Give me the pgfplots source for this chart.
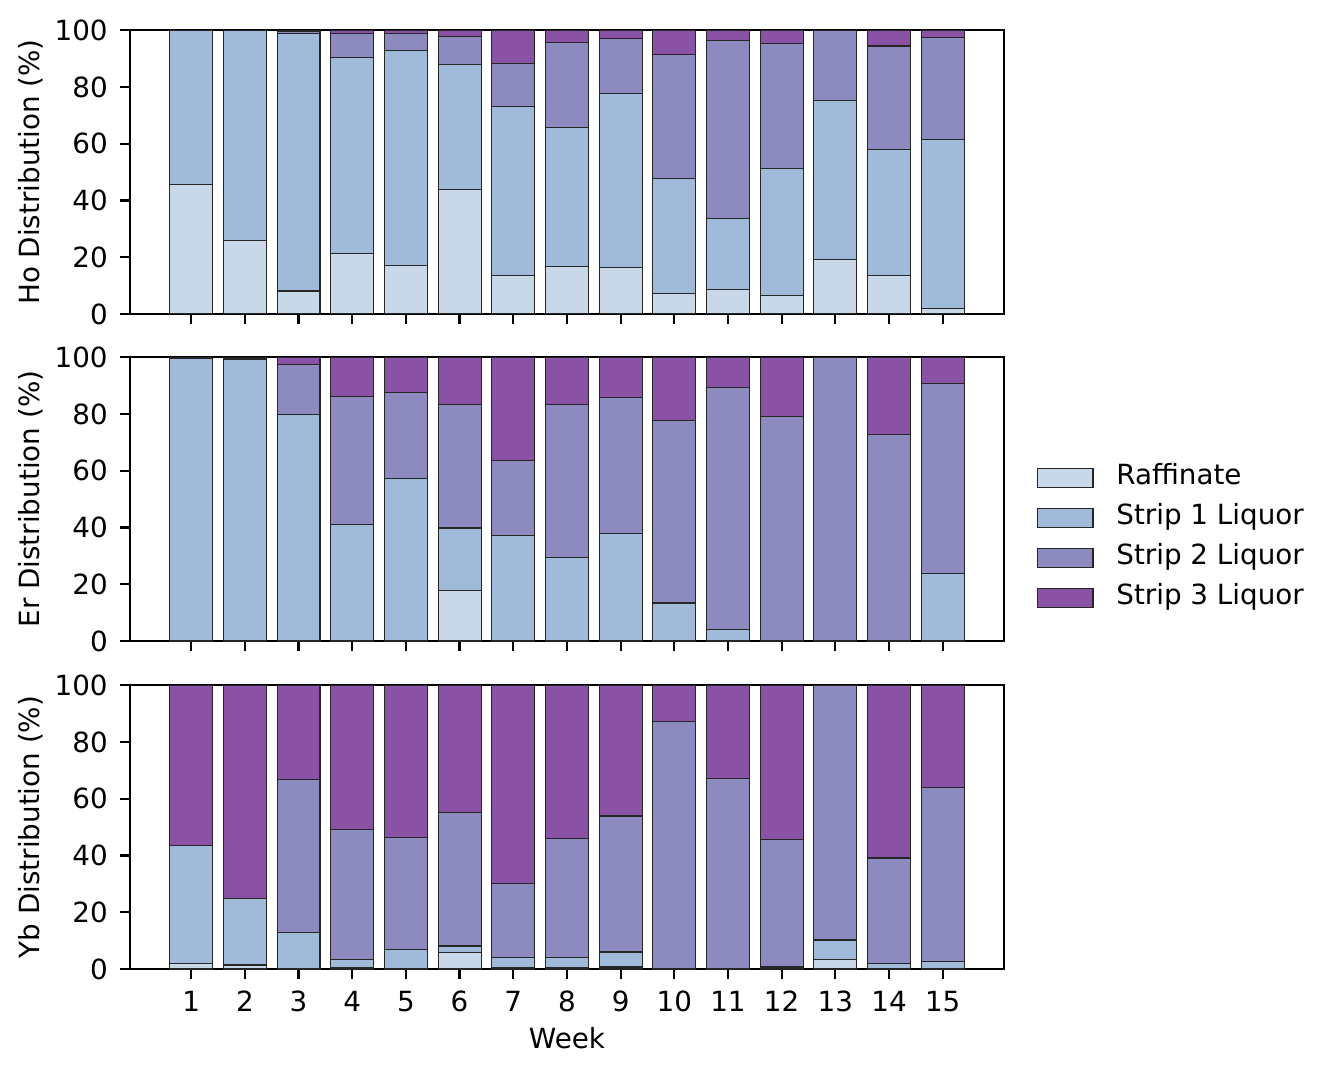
\documentclass[border=0pt]{standalone}
\usepackage{fontspec}
\setmainfont{DejaVu Sans}
\usepackage{pgfplots}
\usepackage{pgfplotstable}
\pgfplotsset{compat=1.18}
\definecolor{cR}{HTML}{C8D8E8}
\definecolor{cSa}{HTML}{9FBBD9}
\definecolor{cSb}{HTML}{8C8ABF}
\definecolor{cSc}{HTML}{8A52A4}

\pgfplotstableread{
week R S1 S2 S3
1 45.7 54.3 0 0
2 26.0 74.0 0 0
3 8.1 90.7 0.9 0.3
4 21.4 69.1 8.3 1.2
5 17.0 75.9 6.0 1.1
6 43.9 43.9 10.1 2.1
7 13.6 59.5 15.1 11.8
8 16.6 49.1 30.0 4.3
9 16.3 61.4 19.2 3.1
10 7.3 40.5 43.7 8.5
11 8.7 24.9 62.8 3.6
12 6.6 44.8 43.9 4.7
13 19.3 56.0 24.7 0
14 13.5 44.4 36.5 5.6
15 1.9 59.7 35.8 2.6
}\hoTable

\pgfplotstableread{
week R S1 S2 S3
1 0 99.4 0.3 0.3
2 0 99.1 0.5 0.4
3 0 79.7 17.8 2.5
4 0 41.0 45.1 13.9
5 0 57.2 30.4 12.4
6 17.9 21.9 43.5 16.7
7 0 37.3 26.2 36.5
8 0 29.3 54.0 16.7
9 0 37.8 47.9 14.3
10 0 13.4 64.3 22.3
11 0 4.2 85.1 10.7
12 0 0 79.0 21.0
13 0 0 100 0
14 0 0 72.7 27.3
15 0 23.9 66.9 9.2
}\erTable

\pgfplotstableread{
week R S1 S2 S3
1 1.9 41.6 0 56.5
2 1.4 23.3 0 75.3
3 0 12.8 53.9 33.3
4 0.4 2.8 45.8 51.0
5 0 6.9 39.4 53.7
6 5.8 2.3 47.0 44.9
7 0.4 3.5 26.1 70.0
8 0.4 3.8 41.9 53.9
9 0.7 5.3 47.9 46.1
10 0 0 87.3 12.7
11 0 0.2 66.9 32.9
12 0.2 0.5 44.8 54.5
13 3.2 7.0 89.8 0
14 0.3 1.5 37.3 60.9
15 0 2.5 61.3 36.2
}\ybTable

\pgfplotsset{
  panel/.style={
    scale only axis, width=314.6pt, height=102.2pt,
    xmin=-0.14, xmax=16.14, ymin=0, ymax=100,
    ybar stacked, bar width=0.8,
    xtick={1,...,15}, ytick={0,20,40,60,80,100},
    tick align=outside, tick pos=left,
    major tick length=3.5pt,
    every tick/.style={black, line width=0.8pt},
    axis line style={line width=0.8pt},
    ticklabel style={font=\fontsize{10}{12}\selectfont},
    yticklabel style={xshift=-1pt},
    xticklabel style={yshift=-1pt},
    label style={font=\fontsize{10}{12}\selectfont},
    /pgf/number format/assume math mode=true,
    ylabel style={at={(axis description cs:-0.113,0.5)}, anchor=center},
    legend image code/.code={\draw[##1] (0pt,-3.5pt) rectangle (20pt,3.5pt);},
    every axis plot/.append style={draw=black!85, line width=0.4pt},
  },
}

\begin{document}
\begin{tikzpicture}
\useasboundingbox (-46.8pt,-37.44pt) rectangle (433.08pt,348.84pt);

\begin{axis}[panel, at={(0pt,235.8pt)}, anchor=south west,
  xticklabels={}, ylabel={Ho Distribution (\%)}]
\addplot[fill=cR] table[x=week,y=R]{\hoTable};
\addplot[fill=cSa] table[x=week,y=S1]{\hoTable};
\addplot[fill=cSb] table[x=week,y=S2]{\hoTable};
\addplot[fill=cSc] table[x=week,y=S3]{\hoTable};
\end{axis}

\begin{axis}[panel, at={(0pt,118.08pt)}, anchor=south west,
  xticklabels={}, ylabel={Er Distribution (\%)},
  legend cell align=left,
  legend style={at={(axis description cs:1.0378,0.363)}, anchor=west,
    draw=none, fill=none, inner sep=0pt, outer sep=0pt, row sep=4.4pt,
    font=\fontsize{10}{12}\selectfont,
    nodes={inner sep=0pt, text height=7.5pt, text depth=2.5pt},
    /tikz/every odd column/.append style={column sep=8.2pt}}]
\addplot[fill=cR] table[x=week,y=R]{\erTable};
\addlegendentry{Raffinate}
\addplot[fill=cSa] table[x=week,y=S1]{\erTable};
\addlegendentry{Strip 1 Liquor}
\addplot[fill=cSb] table[x=week,y=S2]{\erTable};
\addlegendentry{Strip 2 Liquor}
\addplot[fill=cSc] table[x=week,y=S3]{\erTable};
\addlegendentry{Strip 3 Liquor}
\end{axis}

\begin{axis}[panel, at={(0pt,0pt)}, anchor=south west,
  ylabel={Yb Distribution (\%)}, xlabel={Week},
  xlabel style={at={(axis description cs:0.5,0)}, yshift=-24.8pt, anchor=center}]
\addplot[fill=cR] table[x=week,y=R]{\ybTable};
\addplot[fill=cSa] table[x=week,y=S1]{\ybTable};
\addplot[fill=cSb] table[x=week,y=S2]{\ybTable};
\addplot[fill=cSc] table[x=week,y=S3]{\ybTable};
\end{axis}
\end{tikzpicture}
\end{document}
